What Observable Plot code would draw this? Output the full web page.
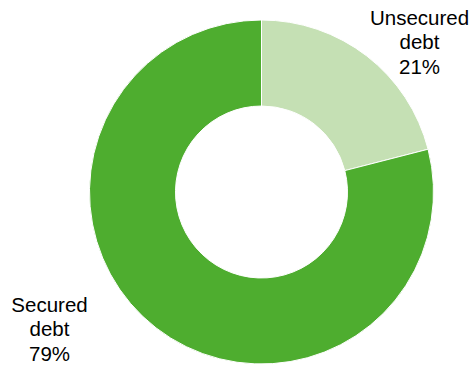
<!DOCTYPE html>
<html>
<head>
<meta charset="utf-8">
<script src="https://cdn.jsdelivr.net/npm/d3@7"></script>
<script src="https://cdn.jsdelivr.net/npm/@observablehq/plot@0.6"></script>
<style>
  html, body { margin: 0; padding: 0; background: #fff; }
</style>
</head>
<body>
<div id="chart"></div>
<script>
// Data
const categories = ["Unsecured debt", "Secured debt"];
const shares = [21, 79];
const colors = ["#c5e0b4", "#4ead2f"];

const data = categories.map((c, i) => ({category: c, share: shares[i]}));
const labelText = d => d.category.replace(" ", "\n") + "\n" + d.share + "%";

const W = 473, H = 366;
const mL = 89.5, mR = 39.5, mT = 20, mB = 2;

// Render bars of a stacked x scale (mapped to angles) as donut slices
function arcRender(index, scales, values, dimensions) {
  const {width, height, marginLeft, marginRight, marginTop, marginBottom} = dimensions;
  const fw = width - marginLeft - marginRight;
  const fh = height - marginTop - marginBottom;
  const cx = marginLeft + fw / 2;
  const cy = marginTop + fh / 2;
  const outer = Math.min(fw, fh) / 2;
  const arc = d3.arc().innerRadius(outer * 0.5).outerRadius(outer);
  const g = d3.create("svg:g").attr("transform", `translate(${cx},${cy})`);
  for (const i of index) {
    g.append("path")
      .attr("d", arc({startAngle: values.x1[i], endAngle: values.x2[i]}))
      .attr("fill", values.fill[i])
      .attr("stroke", "white")
      .attr("stroke-width", 1);
  }
  return g.node();
}

const textStyle = {
  text: labelText,
  textAnchor: "middle",
  lineAnchor: "middle",
  lineHeight: 1.2,
  fontSize: 20.5,
  fontFamily: "'Liberation Sans', Arial, sans-serif",
  fill: "#000"
};

const chart = Plot.plot({
  width: W,
  height: H,
  marginLeft: mL,
  marginRight: mR,
  marginTop: mT,
  marginBottom: mB,
  x: {domain: [0, 100], range: [0, 2 * Math.PI], axis: null},
  y: {axis: null},
  color: {domain: categories, range: colors},
  style: {background: "white", overflow: "visible"},
  marks: [
    Plot.barX(data, Plot.stackX({x: "share", fill: "category", render: arcRender})),
    Plot.text(data.filter(d => d.category === categories[0]), {...textStyle, frameAnchor: "top-right", dx: -14.5, dy: 21}),
    Plot.text(data.filter(d => d.category === categories[1]), {...textStyle, frameAnchor: "bottom-left", dx: -40.5, dy: -36})
  ]
});
document.getElementById("chart").appendChild(chart);
</script>
</body>
</html>
